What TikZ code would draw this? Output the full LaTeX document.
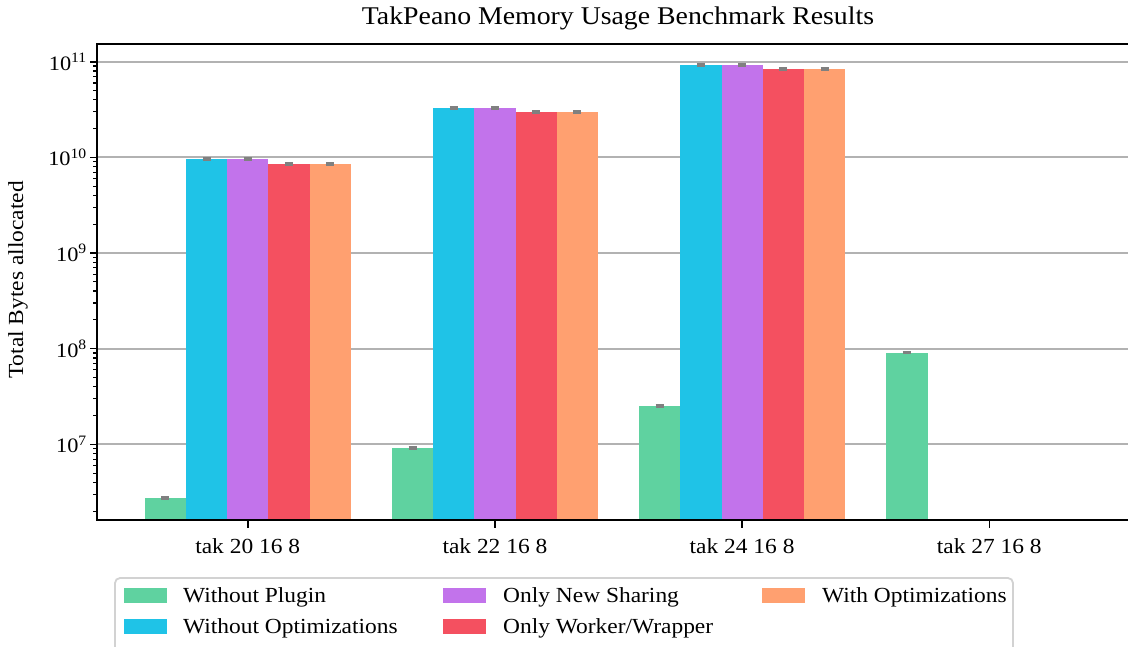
\documentclass[tikz,border=0pt]{standalone}
\usepackage{fontspec}
\setmainfont[FakeStretch=1.09]{Liberation Serif}
% series colours
\definecolor{cPlain}{RGB}{95,210,160}
\definecolor{cNoOpt}{RGB}{31,195,231}
\definecolor{cShare}{RGB}{194,115,235}
\definecolor{cWW}{RGB}{244,80,96}
\definecolor{cOpt}{RGB}{255,160,112}
\definecolor{cGrid}{RGB}{178,178,178}
\definecolor{cErr}{RGB}{128,128,128}
\definecolor{cFrame}{RGB}{210,210,210}
\begin{document}
\begin{tikzpicture}[x=1pt,y=-1pt,
  declare function={yl(\v)=61.7+(11-\v)*95.65;},
  gridline/.style={draw=cGrid,line width=1.8pt},
  spine/.style={draw=black,line width=2.2pt},
  majortick/.style={draw=black,line width=1.6pt},
  minortick/.style={draw=black,line width=1.2pt},
  errcap/.style={draw=cErr,line width=3.4pt},
  legendframe/.style={draw=cFrame,line width=1.8pt,fill=white,rounded corners=5pt},
  lbl/.style={inner sep=0pt,font=\fontsize{21.5}{25}\selectfont},
  swatch/.style={inner sep=0pt,minimum width=43pt,minimum height=15pt}]
\useasboundingbox (0,0) rectangle (1128,646);
\clip (0,0) rectangle (1128,646);
\fill[white] (0,0) rectangle (1128,646);

% title and axis label
\node[lbl,font=\fontsize{25.5}{29}\selectfont] (title) at (618,18) {TakPeano Memory Usage Benchmark Results};
\node[lbl,rotate=90] (ylabel) at (18,280) {Total Bytes allocated};

% major grid
\foreach \d in {7,...,11}
  \draw[gridline] (97,{yl(\d)}) -- (1128,{yl(\d)});

% bars: one loop per series, groups 247.2 apart, bars 41.2 wide
\foreach \s/\col/\data in {-2/cPlain/{0/6.439,1/6.961,2/7.400,3/7.958},
                           -1/cNoOpt/{0/9.983,1/10.516,2/10.965},
                            0/cShare/{0/9.983,1/10.516,2/10.965},
                            1/cWW/{0/9.930,1/10.474,2/10.924},
                            2/cOpt/{0/9.930,1/10.474,2/10.924}}{
  \foreach \g/\v in \data {
    \pgfmathsetmacro\xc{247.7+247.2*\g+41.2*\s}
    \fill[\col] ({\xc-20.6},520) rectangle ({\xc+20.6},{yl(\v)});
    \draw[errcap] ({\xc-4},{yl(\v)}) -- ({\xc+4},{yl(\v)});
  }
}

% y ticks and labels
\foreach \d in {7,...,11}{
  \draw[majortick] (97,{yl(\d)}) -- (90,{yl(\d)});
  \node[lbl,anchor=east,font=\fontsize{20.5}{23}\selectfont] (ytick\d) at (87,{yl(\d)}) {10\textsuperscript{\d}};
}
\foreach \d in {6,...,10}
  \foreach \k in {2,...,9}{
    \pgfmathsetmacro\vv{\d+log10(\k)}
    \pgfmathparse{(\vv>6.21)&&(\vv<11.18)?1:0}
    \ifnum\pgfmathresult=1
      \draw[minortick] (97,{yl(\vv)}) -- (93,{yl(\vv)});
    \fi
  }

% x ticks and labels
\foreach \g/\t in {0/20,1/22,2/24,3/27}{
  \pgfmathsetmacro\xc{247.7+247.2*\g}
  \draw[majortick] (\xc,520) -- (\xc,528);
  \node[lbl,anchor=base] (xtick\g) at (\xc,553) {tak \t\ 16 8};
}

% spines
\draw[spine] (1128,44) -- (97,44) -- (97,520) -- (1128,520);

% legend
\draw[legendframe] (115,578) rectangle (1013,680);
\node[swatch,fill=cPlain] (sw1) at (145.5,595.5) {};
\node[swatch,fill=cNoOpt] (sw2) at (145.5,626) {};
\node[swatch,fill=cShare] (sw3) at (464.5,595.5) {};
\node[swatch,fill=cWW] (sw4) at (464.5,626) {};
\node[swatch,fill=cOpt] (sw5) at (783.5,595.5) {};
\node[lbl,anchor=base west] (le1) at (183,602) {Without Plugin};
\node[lbl,anchor=base west] (le2) at (183,633) {Without Optimizations};
\node[lbl,anchor=base west] (le3) at (503,602) {Only New Sharing};
\node[lbl,anchor=base west] (le4) at (503,633) {Only Worker/Wrapper};
\node[lbl,anchor=base west] (le5) at (822,602) {With Optimizations};
\end{tikzpicture}
\end{document}
